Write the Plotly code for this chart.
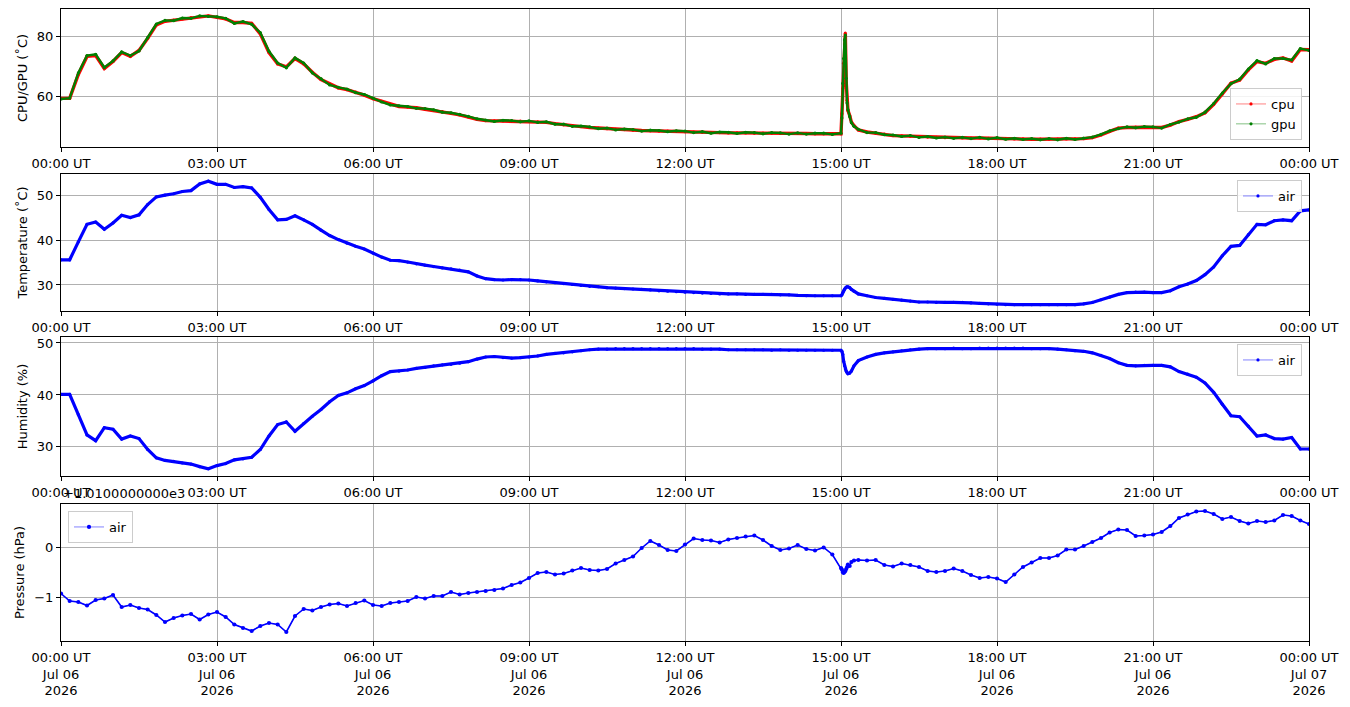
import numpy as np
import pandas as pd
import plotly.graph_objects as go

# ---------------- data (10-minute grid, 00:00 .. 24:00) ----------------
DAY_START = "2026-07-06 00:00"
grid_minutes = list(range(0, 1441, 10))
spike_minutes = [901, 902, 903, 904, 905, 906, 907, 908, 912, 915]

cpu = [
    59.5, 59.5, 67.5, 73.5, 73.8, 69.5,
    71.8, 74.8, 73.5, 75.5, 79.5, 84.0,
    85.2, 85.6, 86.0, 86.4, 86.8, 87.0,
    86.5, 86.0, 84.8, 84.8, 84.5, 81.0,
    74.8, 71.0, 70.0, 72.8, 71.0, 68.2,
    65.8, 64.3, 63.0, 62.4, 61.6, 60.6,
    59.4, 58.5, 57.5, 56.8, 56.6, 56.4,
    55.9, 55.5, 55.1, 54.5, 54.0, 53.3,
    52.5, 52.1, 52.0, 52.0, 51.9, 51.9,
    51.8, 51.7, 51.5, 51.1, 50.7, 50.4,
    50.1, 49.8, 49.6, 49.4, 49.2, 49.1,
    48.9, 48.8, 48.7, 48.6, 48.6, 48.5,
    48.4, 48.3, 48.2, 48.1, 48.1, 48.0,
    48.0, 48.0, 47.9, 47.9, 47.9, 47.8,
    47.8, 47.8, 47.8, 47.7, 47.7, 47.7,
    47.7, 53.8, 49.0, 48.3, 47.9, 47.6,
    47.1, 47.0, 46.9, 46.7, 46.6, 46.5,
    46.4, 46.4, 46.3, 46.3, 46.3, 46.2,
    46.2, 46.1, 46.0, 46.0, 45.9, 45.9,
    45.9, 45.9, 46.0, 46.0, 46.1, 46.4,
    47.3, 48.5, 49.6, 49.8, 49.9, 49.9,
    49.8, 49.8, 50.6, 51.8, 52.5, 53.4,
    54.7, 57.5, 61.0, 64.6, 65.6, 69.0,
    71.8, 71.2, 72.5, 73.0, 72.0, 75.8,
    75.7,
]
cpu_spike = [54.4, 62.8, 71.2, 77.6, 81.3, 65.0, 58.9, 55.5, 51.6, 50.4]

gpu = [
    59.3, 59.6, 68.0, 73.8, 74.2, 69.8,
    72.0, 75.0, 73.8, 75.3, 79.8, 84.3,
    85.5, 85.4, 86.3, 86.2, 87.0, 86.8,
    86.7, 86.2, 84.5, 85.1, 84.2, 81.4,
    75.2, 71.3, 69.7, 73.0, 71.3, 68.0,
    66.1, 64.0, 63.2, 62.6, 61.4, 60.8,
    59.6, 58.3, 57.3, 57.0, 56.8, 56.2,
    56.1, 55.7, 54.9, 54.7, 54.2, 53.5,
    52.7, 52.3, 51.8, 52.2, 52.1, 51.7,
    52.0, 51.5, 51.7, 50.9, 50.9, 50.2,
    50.3, 50.0, 49.4, 49.6, 49.0, 49.3,
    49.1, 48.6, 48.9, 48.8, 48.4, 48.7,
    48.6, 48.1, 48.4, 47.9, 48.3, 48.2,
    47.8, 48.2, 48.1, 47.7, 48.1, 48.0,
    47.6, 48.0, 47.6, 47.9, 47.9, 47.5,
    47.9, 53.5, 49.2, 48.1, 48.1, 47.4,
    47.3, 46.8, 47.1, 46.5, 46.8, 46.3,
    46.6, 46.2, 46.5, 46.1, 46.5, 46.0,
    46.4, 45.9, 46.2, 45.8, 46.1, 45.7,
    46.1, 45.7, 46.2, 45.8, 46.3, 46.6,
    47.5, 48.7, 49.4, 50.0, 49.7, 50.1,
    50.0, 49.6, 50.8, 51.6, 52.7, 53.2,
    54.9, 57.8, 61.3, 64.4, 65.9, 69.3,
    72.1, 71.0, 72.8, 72.8, 72.3, 76.1,
    75.5,
]
gpu_spike = [53.0, 64.5, 72.8, 79.0, 80.6, 66.2, 58.0, 55.8, 51.4, 50.2]

air_temp = [
    35.6, 35.6, 39.6, 43.5, 44.0, 42.4,
    43.8, 45.5, 45.0, 45.6, 47.9, 49.6,
    50.0, 50.3, 50.8, 51.0, 52.5, 53.1,
    52.4, 52.4, 51.7, 51.9, 51.6, 49.5,
    46.8, 44.5, 44.6, 45.4, 44.5, 43.5,
    42.2, 41.0, 40.1, 39.3, 38.6, 38.0,
    37.1, 36.2, 35.5, 35.4, 35.1, 34.7,
    34.4, 34.1, 33.8, 33.6, 33.3, 32.9,
    32.0, 31.4, 31.2, 31.1, 31.2, 31.2,
    31.1, 30.9, 30.7, 30.5, 30.3, 30.1,
    29.9, 29.7, 29.6, 29.4, 29.3, 29.2,
    29.1, 29.0, 28.9, 28.7, 28.6, 28.5,
    28.4, 28.3, 28.2, 28.1, 28.0, 28.0,
    28.0, 27.9, 27.9, 27.9, 27.9, 27.8,
    27.8, 27.7, 27.6, 27.6, 27.6, 27.6,
    27.6, 29.4, 28.0, 27.6, 27.2, 27.0,
    26.8, 26.6, 26.4, 26.2, 26.2, 26.1,
    26.1, 26.1, 26.1, 26.0, 25.9, 25.8,
    25.7, 25.6, 25.6, 25.6, 25.6, 25.6,
    25.6, 25.6, 25.6, 25.6, 25.8, 26.1,
    26.7, 27.3, 27.9, 28.3, 28.4, 28.4,
    28.3, 28.3, 28.7, 29.6, 30.2, 31.0,
    32.3, 34.0, 36.5, 38.6, 38.8, 41.2,
    43.5, 43.4, 44.3, 44.5, 44.3, 46.5,
    46.7,
]
air_temp_spike = [27.8, 28.3, 28.7, 29.0, 29.3, 29.5, 29.6, 29.6, 29.0, 28.6]

air_hum = [
    40.1, 40.1, 36.2, 32.3, 31.2, 33.7,
    33.4, 31.5, 32.1, 31.6, 29.5, 27.9,
    27.4, 27.2, 26.9, 26.7, 26.2, 25.8,
    26.4, 26.8, 27.5, 27.7, 28.0, 29.5,
    32.1, 34.3, 34.8, 33.0, 34.5, 35.9,
    37.2, 38.7, 39.9, 40.4, 41.2, 41.8,
    42.7, 43.7, 44.5, 44.6, 44.8, 45.1,
    45.3, 45.6, 45.8, 45.9, 46.1, 46.4,
    46.9, 47.3, 47.4, 47.2, 47.1, 47.2,
    47.3, 47.5, 47.8, 48.0, 48.1, 48.3,
    48.5, 48.7, 48.8, 48.8, 48.9, 48.9,
    48.9, 48.9, 48.9, 48.9, 48.9, 48.9,
    48.9, 48.9, 48.8, 48.8, 48.8, 48.7,
    48.7, 48.7, 48.7, 48.7, 48.6, 48.7,
    48.6, 48.6, 48.6, 48.6, 48.6, 48.6,
    48.6, 44.2, 46.6, 47.3, 47.8, 48.1,
    48.3, 48.5, 48.7, 48.8, 48.9, 48.9,
    48.9, 49.0, 48.9, 48.9, 49.0, 49.0,
    49.0, 49.0, 49.0, 49.0, 48.9, 48.9,
    48.9, 48.8, 48.7, 48.5, 48.4, 48.1,
    47.6, 47.0, 46.2, 45.7, 45.6, 45.7,
    45.7, 45.7, 45.4, 44.5, 44.0, 43.4,
    42.3, 40.5, 38.2, 36.0, 35.8, 34.0,
    32.1, 32.3, 31.6, 31.5, 31.8, 29.6,
    29.6,
]
air_hum_spike = [48.4, 47.8, 46.5, 45.6, 45.0, 44.6, 44.3, 44.1, 44.6, 45.6]

air_pres = [
    1009.07, 1008.92, 1008.90, 1008.83, 1008.94, 1008.97,
    1009.04, 1008.80, 1008.84, 1008.78, 1008.75, 1008.64,
    1008.50, 1008.58, 1008.63, 1008.66, 1008.55, 1008.65,
    1008.70, 1008.60, 1008.45, 1008.38, 1008.32, 1008.42,
    1008.48, 1008.45, 1008.30, 1008.62, 1008.76, 1008.73,
    1008.80, 1008.85, 1008.87, 1008.82, 1008.88, 1008.93,
    1008.84, 1008.82, 1008.88, 1008.90, 1008.92, 1009.00,
    1008.97, 1009.02, 1009.02, 1009.10, 1009.05, 1009.08,
    1009.10, 1009.12, 1009.14, 1009.17, 1009.24, 1009.29,
    1009.38, 1009.48, 1009.50, 1009.45, 1009.47, 1009.53,
    1009.58, 1009.54, 1009.53, 1009.56, 1009.67, 1009.74,
    1009.81, 1009.98, 1010.12, 1010.04, 1009.94, 1009.92,
    1010.05, 1010.17, 1010.14, 1010.13, 1010.09, 1010.15,
    1010.18, 1010.21, 1010.23, 1010.14, 1010.02, 1009.94,
    1009.97, 1010.04, 1009.96, 1009.93, 1009.99, 1009.85,
    1009.58, 1009.62, 1009.74, 1009.73, 1009.74, 1009.64,
    1009.61, 1009.67, 1009.64, 1009.60, 1009.52, 1009.50,
    1009.52, 1009.57, 1009.52, 1009.44, 1009.38, 1009.40,
    1009.37, 1009.30, 1009.45, 1009.60, 1009.69, 1009.78,
    1009.78, 1009.83, 1009.95, 1009.95, 1010.02, 1010.10,
    1010.18, 1010.29, 1010.35, 1010.34, 1010.22, 1010.23,
    1010.25, 1010.30, 1010.42, 1010.58, 1010.65, 1010.71,
    1010.72, 1010.66, 1010.56, 1010.60, 1010.52, 1010.47,
    1010.52, 1010.50, 1010.53, 1010.64, 1010.62, 1010.53,
    1010.46,
]
air_pres_spike = [1009.55, 1009.50, 1009.48, 1009.50, 1009.52, 1009.56, 1009.60, 1009.65, 1009.70, 1009.73]
PRES_OFFSET = 1010.0

tick_hours = [0, 3, 6, 9, 12, 15, 18, 21, 24]
tick_time_labels = ["00:00 UT", "03:00 UT", "06:00 UT", "09:00 UT", "12:00 UT",
                    "15:00 UT", "18:00 UT", "21:00 UT", "00:00 UT"]
tick_date_labels = ["Jul 06"] * 8 + ["Jul 07"]
tick_year_labels = ["2026"] * 9

# ---------------- helpers ----------------
t0 = pd.Timestamp(DAY_START)


def merged(grid_vals, spike_vals):
    mins = grid_minutes + spike_minutes
    vals = list(grid_vals) + list(spike_vals)
    order = np.argsort(mins, kind="stable")
    xs = [(t0 + pd.Timedelta(minutes=int(mins[i]))).strftime("%Y-%m-%d %H:%M:%S") for i in order]
    ys = [vals[i] for i in order]
    return xs, ys


tickvals = [(t0 + pd.Timedelta(hours=h)).strftime("%Y-%m-%d %H:%M:%S") for h in tick_hours]
x_range = [tickvals[0], tickvals[-1]]

# ---------------- figure geometry (page has an 8px body margin) ----------------
PAGE_OFF = 8
W, H = 1350 - PAGE_OFF, 707 - PAGE_OFF
PLOT_L, PLOT_R, PLOT_T, PLOT_B = 61, 1309, 9, 641   # target page pixels
ML = PLOT_L - PAGE_OFF
MT = PLOT_T - PAGE_OFF
MR = W - (PLOT_R - PAGE_OFF)
MB = H - (PLOT_B - PAGE_OFF)
ph = H - MT - MB
pw = W - ML - MR


def dom(top_px, bot_px):
    return [(PLOT_B - bot_px) / ph, (PLOT_B - top_px) / ph]


doms = [dom(9, 147), dom(174, 311), dom(337, 476), dom(504, 641)]

FONT = "DejaVu Sans"
fig = go.Figure()

BLUE = "#0000ff"
RED = "#ff0000"
GREEN = "#008000"


def add_series(xs, ys, color, name, axis_idx, legend, band_w, lgd_line, msize=3.2):
    xa = "x" if axis_idx == 1 else f"x{axis_idx}"
    ya = "y" if axis_idx == 1 else f"y{axis_idx}"
    fig.add_trace(go.Scatter(x=xs, y=ys, mode="lines", line=dict(color=color, width=band_w),
                             showlegend=False, hoverinfo="skip", xaxis=xa, yaxis=ya))
    fig.add_trace(go.Scatter(x=xs, y=ys, mode="lines+markers", name=name,
                             line=dict(color=lgd_line, width=0.9),
                             marker=dict(color=color, size=msize, line=dict(width=0)),
                             legend=legend, xaxis=xa, yaxis=ya))


x, y = merged(cpu, cpu_spike)
add_series(x, y, RED, "cpu", 1, "legend", 3.4, "rgba(255,0,0,0.55)")
x, y = merged(gpu, gpu_spike)
add_series(x, y, GREEN, "gpu", 1, "legend", 2.4, "rgba(0,128,0,0.55)")
x, y = merged(air_temp, air_temp_spike)
add_series(x, y, BLUE, "air", 2, "legend2", 3.2, "rgba(0,0,255,0.55)")
x, y = merged(air_hum, air_hum_spike)
add_series(x, y, BLUE, "air", 3, "legend3", 3.2, "rgba(0,0,255,0.55)")
x, y = merged(air_pres, air_pres_spike)
y = [v - PRES_OFFSET for v in y]
add_series(x, y, BLUE, "air", 4, "legend4", 1.6, "rgba(0,0,255,0.55)", msize=4.2)

axis_common = dict(showline=True, linecolor="black", linewidth=1, mirror=True,
                   ticks="outside", ticklen=4, tickwidth=1, tickcolor="black",
                   showgrid=True, gridcolor="#b0b0b0", gridwidth=0.8,
                   zeroline=False, tickfont=dict(family=FONT, size=13, color="black"))

y_specs = [
    dict(range=[43.3, 89.3], tickvals=[60, 80], title="CPU/GPU (˚C)"),
    dict(range=[24.2, 54.7], tickvals=[30, 40, 50], title="Temperature (˚C)"),
    dict(range=[24.4, 51.15], tickvals=[30, 40, 50], title="Humidity (%)"),
    dict(range=[-1.88, 0.86], tickvals=[-1, 0], title="Pressure (hPa)"),
]

layout = dict(width=W, height=H, margin=dict(l=ML, r=MR, t=MT, b=MB),
              paper_bgcolor="white", plot_bgcolor="white",
              font=dict(family=FONT, size=13, color="black"))

for i in range(4):
    k = "" if i == 0 else str(i + 1)
    if i < 3:
        ttext = tick_time_labels
    else:
        ttext = [f"{a}<br>{b}<br>{c}" for a, b, c in zip(tick_time_labels, tick_date_labels, tick_year_labels)]
    layout["xaxis" + k] = dict(axis_common, domain=[0, 1], anchor="y" + k, range=x_range,
                               type="date", tickmode="array", tickvals=tickvals, ticktext=ttext)
    ys = y_specs[i]
    layout["yaxis" + k] = dict(axis_common, domain=doms[i], anchor="x" + k, range=ys["range"],
                               tickmode="array", tickvals=ys["tickvals"],
                               title=dict(text=ys["title"], font=dict(family=FONT, size=13), standoff=6))

leg_common = dict(bgcolor="rgba(255,255,255,0.85)", bordercolor="#cccccc", borderwidth=1,
                  font=dict(family=FONT, size=13, color="black"), itemwidth=30,
                  tracegroupgap=0)
layout["legend"] = dict(leg_common, x=(1302 - PLOT_L) / pw, xanchor="right",
                        y=(PLOT_B - 140) / ph, yanchor="bottom")
layout["legend2"] = dict(leg_common, x=(1302 - PLOT_L) / pw, xanchor="right",
                         y=(PLOT_B - 180) / ph, yanchor="top")
layout["legend3"] = dict(leg_common, x=(1302 - PLOT_L) / pw, xanchor="right",
                         y=(PLOT_B - 344) / ph, yanchor="top")
layout["legend4"] = dict(leg_common, x=(68 - PLOT_L) / pw, xanchor="left",
                         y=(PLOT_B - 511) / ph, yanchor="top")

layout["annotations"] = [dict(text="+1.0100000000e3", xref="paper", yref="paper",
                              x=0, y=doms[3][1], xanchor="left", yanchor="bottom",
                              showarrow=False, yshift=1,
                              font=dict(family=FONT, size=13, color="black"))]

fig.update_layout(**layout)
fig.write_html("out.html")
